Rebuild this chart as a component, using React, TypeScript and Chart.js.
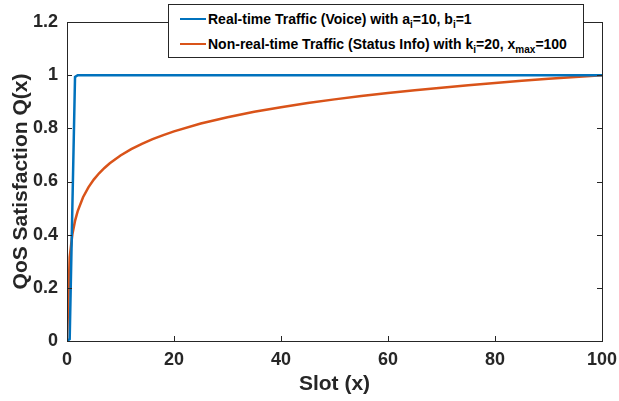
import React, { useEffect, useRef } from "react";
import { Chart, registerables } from "chart.js";

Chart.register(...registerables);

const xTicks = [0, 20, 40, 60, 80, 100];
const yTicks = [0, 0.2, 0.4, 0.6, 0.8, 1, 1.2];

const realTimeX = [0, 0.5, 1, 1.5, 2, 100];
const realTimeY = [0, 0.007, 0.5, 0.993, 1, 1];

const nonRealTimeX = [0, 0.5, 1, 1.5, 2, 3, 4, 5, 6, 7, 8, 10, 12, 14, 16, 18, 20, 25, 30, 35, 40, 45, 50, 55, 60, 65, 70, 75, 80, 85, 90, 95, 100];
const nonRealTimeY = [0, 0.3155, 0.4005, 0.4518, 0.4886, 0.5408, 0.5781, 0.6072, 0.6309, 0.651, 0.6685, 0.6977, 0.7216, 0.7418, 0.7592, 0.7747, 0.7885, 0.8179, 0.8418, 0.8621, 0.8796, 0.8951, 0.9089, 0.9214, 0.9329, 0.9434, 0.9531, 0.9622, 0.9707, 0.9787, 0.9861, 0.9933, 1];

const BLUE = "#0072BD";
const ORANGE = "#D95319";
const AXIS = "#262626";
const FONT = "'Liberation Sans', Arial, Helvetica, sans-serif";

const toPoints = (xs: number[], ys: number[]) => xs.map((x, i) => ({ x, y: ys[i] }));

const boxPlugin = {
  id: "matlabBox",
  afterDraw(chart: any) {
    const { ctx, chartArea } = chart;
    const { left, right, top, bottom } = chartArea;
    const xs = chart.scales.x;
    const ys = chart.scales.y;
    ctx.save();
    ctx.strokeStyle = AXIS;
    ctx.lineWidth = 1;
    ctx.strokeRect(Math.round(left) + 0.5, Math.round(top) + 0.5, Math.round(right - left), Math.round(bottom - top));
    const tl = 5;
    ctx.beginPath();
    xTicks.forEach((v) => {
      const px = Math.round(xs.getPixelForValue(v)) + 0.5;
      ctx.moveTo(px, bottom);
      ctx.lineTo(px, bottom - tl);
      ctx.moveTo(px, top);
      ctx.lineTo(px, top + tl);
    });
    yTicks.forEach((v) => {
      const py = Math.round(ys.getPixelForValue(v)) + 0.5;
      ctx.moveTo(left, py);
      ctx.lineTo(left + tl, py);
      ctx.moveTo(right, py);
      ctx.lineTo(right - tl, py);
    });
    ctx.stroke();
    ctx.restore();
  },
};

export default function App() {
  const ref = useRef<HTMLCanvasElement>(null);

  useEffect(() => {
    document.body.style.margin = "0";
    const canvas = ref.current;
    if (!canvas) return;
    const chart = new Chart(canvas, {
      type: "line",
      data: {
        datasets: [
          {
            label: "Real-time Traffic (Voice) with a_i=10, b_i=1",
            data: toPoints(realTimeX, realTimeY),
            borderColor: BLUE,
            backgroundColor: BLUE,
            borderWidth: 2.5,
            pointRadius: 0,
            tension: 0,
          },
          {
            label: "Non-real-time Traffic (Status Info) with k_i=20, x_max=100",
            data: toPoints(nonRealTimeX, nonRealTimeY),
            borderColor: ORANGE,
            backgroundColor: ORANGE,
            borderWidth: 2.5,
            pointRadius: 0,
            tension: 0,
          },
        ],
      },
      options: {
        responsive: false,
        animation: false,
        devicePixelRatio: 1,
        layout: { padding: { left: 0, top: 22, right: 17, bottom: 0 } },
        plugins: {
          legend: { display: false },
          tooltip: { enabled: false },
        },
        scales: {
          x: {
            type: "linear",
            min: 0,
            max: 100,
            afterBuildTicks: (scale: any) => {
              scale.ticks = xTicks.map((v) => ({ value: v }));
            },
            afterFit: (scale: any) => {
              scale.height = 60;
              scale.paddingLeft = 0;
              scale.paddingRight = 0;
            },
            grid: { display: false, drawTicks: false },
            border: { display: false },
            ticks: {
              color: AXIS,
              font: { family: FONT, size: 18, weight: "bold" },
              padding: 8,
              maxRotation: 0,
            },
            title: {
              display: true,
              text: "Slot (x)",
              color: AXIS,
              font: { family: FONT, size: 21, weight: "bold" },
              padding: { top: 0, bottom: 4 },
            },
          },
          y: {
            type: "linear",
            min: 0,
            max: 1.2,
            afterBuildTicks: (scale: any) => {
              scale.ticks = yTicks.map((v) => ({ value: v }));
            },
            afterFit: (scale: any) => {
              scale.width = 67;
              scale.paddingTop = 0;
              scale.paddingBottom = 0;
            },
            grid: { display: false, drawTicks: false },
            border: { display: false },
            ticks: {
              color: AXIS,
              font: { family: FONT, size: 18, weight: "bold" },
              padding: 9,
              callback: (v: any) => String(Math.round(Number(v) * 10) / 10),
            },
            title: {
              display: true,
              text: "QoS Satisfaction Q(x)",
              color: AXIS,
              font: { family: FONT, size: 21, weight: "bold" },
              padding: { top: 9, bottom: 0 },
            },
          },
        },
      },
      plugins: [boxPlugin],
    } as any);
    return () => chart.destroy();
  }, []);

  const rowStyle: React.CSSProperties = {
    position: "absolute",
    left: 11,
    height: 20,
    display: "flex",
    alignItems: "center",
    whiteSpace: "nowrap",
  };
  const lineStyle = (c: string): React.CSSProperties => ({
    display: "inline-block",
    width: 26,
    height: 2.5,
    background: c,
    marginRight: 2,
  });
  const subStyle: React.CSSProperties = { fontSize: 10, verticalAlign: -4, lineHeight: 0 };

  return (
    <div style={{ position: "relative", width: 619, height: 401, background: "#fff" }}>
      <canvas ref={ref} width={619} height={401} style={{ display: "block" }} />
      <div
        style={{
          position: "absolute",
          left: 168,
          top: 4,
          width: 414,
          height: 52,
          border: `1px solid ${AXIS}`,
          background: "#fff",
          fontFamily: FONT,
          fontWeight: "bold",
          fontSize: 14,
          color: "#000",
        }}
      >
        <div style={{ ...rowStyle, top: 4 }}>
          <span style={lineStyle(BLUE)} />
          <span>
            Real-time Traffic (Voice) with a<sub style={subStyle}>i</sub>=10, b<sub style={subStyle}>i</sub>=1
          </span>
        </div>
        <div style={{ ...rowStyle, top: 29 }}>
          <span style={lineStyle(ORANGE)} />
          <span>
            Non-real-time Traffic (Status Info) with k<sub style={subStyle}>i</sub>=20, x<sub style={subStyle}>max</sub>=100
          </span>
        </div>
      </div>
    </div>
  );
}
